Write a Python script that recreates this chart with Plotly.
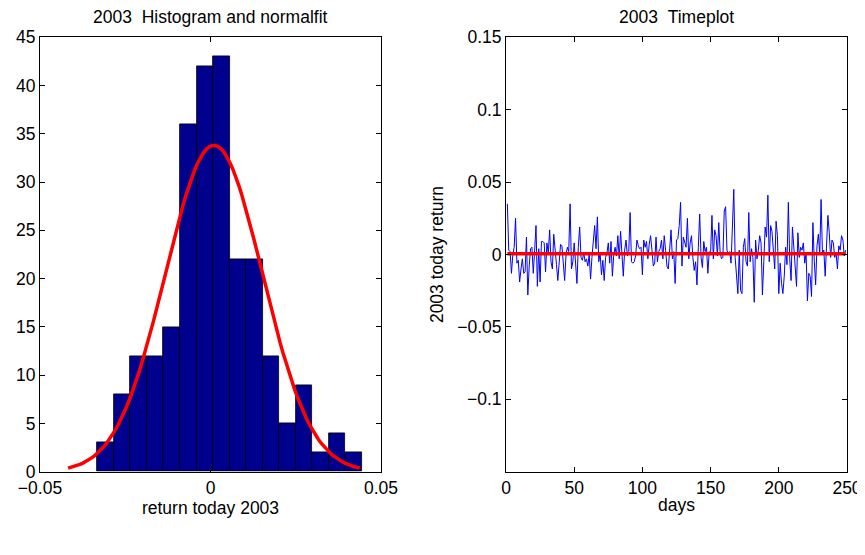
import numpy as np
import plotly.graph_objects as go

# ---------------- data ----------------
# histogram (left panel)
hist_counts = [3, 8, 12, 12, 15, 36, 42, 43, 22, 22, 12, 5, 9, 2, 4, 2]
hist_first_edge = -0.0332
hist_bin_width = 0.00485

# normal fit parameters (left panel)
fit_mean = 0.001
fit_std = 0.01425
n_obs = 249

# daily returns 2003, in thousandths (right panel), days 1..249
returns_milli = [
    35, 3, 2, -13, 0, 5, 25, -6, -4, -19,
    -10, -3, -13, -12, 12, -28, -8, 4, 5, -13,
    3, 20, -22, 4, -19, 9, 9, 8, -12, 8,
    1, 17, -5, -10, 14, 0, -7, -18, -5, 7,
    6, -5, -18, 0, 5, 2, 35, -10, -5, 8,
    -6, -20, 5, 19, -2, -4, 1, -5, -3, -8,
    0, -17, -2, 10, 20, 4, 26, -5, 1, -14,
    -4, -18, -2, 1, 8, -6, 9, -15, 0, 5,
    -1, 13, -3, 16, 2, -15, 3, 10, -1, 2,
    29, -5, -6, -5, -1, 10, 6, 4, 5, -14,
    10, 5, 9, -3, 7, 13, 3, -8, -6, 12,
    -5, 2, 4, 10, -3, 13, 3, -8, -10, 8,
    17, -3, 2, -20, 10, 11, 20, 36, -8, 12,
    8, 5, 25, -3, 8, 13, -2, -11, -5, -21,
    5, 28, -2, -9, 9, 2, 5, -13, 2, 1,
    27, -3, 17, 13, -1, 22, 1, -3, -2, 30,
    33, 3, 0, 2, -6, 20, 45, -2, -17, -27,
    3, -25, -27, 5, 11, -5, -8, 29, -5, 4,
    -2, -33, 10, -3, 3, 13, 8, -28, -5, 19,
    12, 41, -5, 20, 16, 5, -10, 23, 13, -27,
    -6, -20, -27, -15, 5, -7, 36, -3, -18, 19,
    7, -5, -22, 15, -2, 5, 3, 8, -6, 1,
    -32, -13, -15, -29, 22, -4, -21, 6, 14, 0,
    38, 1, 3, -15, 5, 27, 15, -2, 10, 8,
    -2, 1, -10, 6, 3, 13, 10, -1, 3,
]
mean_line_value = 0.0005

left_xticks = [-0.05, 0, 0.05]
left_yticks = [0, 5, 10, 15, 20, 25, 30, 35, 40, 45]
right_xticks = [0, 50, 100, 150, 200, 250]
right_yticks = [0.15, 0.1, 0.05, 0, -0.05, -0.1]

# ---------------- derived ----------------
returns = np.array(returns_milli) / 1000.0
days = np.arange(1, len(returns) + 1)
bin_centers = hist_first_edge + hist_bin_width * (np.arange(len(hist_counts)) + 0.5)
xfit = np.linspace(fit_mean - 3 * fit_std, fit_mean + 3 * fit_std, 100)
yfit = n_obs * hist_bin_width * np.exp(-0.5 * ((xfit - fit_mean) / fit_std) ** 2) / (fit_std * np.sqrt(2 * np.pi))

FONT = "Liberation Sans, Arial, Helvetica, sans-serif"
FS = 17.5

# page body has an 8px margin; figure is sized to fit the remaining window
OFF = 8
W, H = 865 - OFF, 555 - 2 * OFF

def px_x(x):
    return (x - OFF) / W

def px_y(y):
    return 1 - (y - OFF) / H

def fmt(v):
    s = ("%g" % v)
    return s.replace("-", "\u2212")

fig = go.Figure()
fig.add_trace(go.Bar(x=bin_centers, y=hist_counts, width=hist_bin_width,
                     marker=dict(color="rgb(0,0,143)", line=dict(color="black", width=0.8)),
                     xaxis="x", yaxis="y", showlegend=False))
fig.add_trace(go.Scatter(x=xfit, y=yfit, mode="lines", line=dict(color="red", width=3.5),
                         xaxis="x", yaxis="y", showlegend=False))
fig.add_trace(go.Scatter(x=days, y=returns, mode="lines", line=dict(color="blue", width=1),
                         xaxis="x2", yaxis="y2", showlegend=False))
fig.add_trace(go.Scatter(x=[days[0], days[-1]], y=[mean_line_value, mean_line_value], mode="lines",
                         line=dict(color="red", width=3.5), xaxis="x2", yaxis="y2", showlegend=False))

axis_common = dict(showline=True, linecolor="black", linewidth=1, mirror="ticks",
                   ticks="inside", ticklen=5, tickcolor="black", tickwidth=1,
                   showgrid=False, zeroline=False, automargin=False,
                   tickfont=dict(family=FONT, size=FS, color="black"))

ydom = [px_y(471.7), px_y(37.3)]
fig.update_layout(
    width=W, height=H,
    margin=dict(l=0, r=0, t=0, b=0),
    paper_bgcolor="white", plot_bgcolor="white",
    bargap=0,
    xaxis=dict(domain=[px_x(40), px_x(381)], range=[-0.05, 0.05], anchor="y",
               tickvals=left_xticks, ticktext=[fmt(v) for v in left_xticks],
               title=dict(text="return today 2003", font=dict(family=FONT, size=FS, color="black"), standoff=2),
               **axis_common),
    yaxis=dict(domain=ydom, range=[0, 45], anchor="x",
               tickvals=left_yticks, ticktext=[fmt(v) for v in left_yticks],
               **axis_common),
    xaxis2=dict(domain=[px_x(506), px_x(847)], range=[0, 250], anchor="y2",
                tickvals=right_xticks, ticktext=[fmt(v) for v in right_xticks],
                title=dict(text="days", font=dict(family=FONT, size=FS, color="black"), standoff=2),
                **axis_common),
    yaxis2=dict(domain=ydom, range=[-0.15, 0.15], anchor="x2",
                tickvals=right_yticks, ticktext=[fmt(v) for v in right_yticks],
                title=dict(text="2003 today return", font=dict(family=FONT, size=FS, color="black"), standoff=9),
                **axis_common),
    annotations=[
        dict(text="2003\u00a0\u00a0Histogram and normalfit", x=px_x((40 + 381) / 2), y=px_y(17),
             xref="paper", yref="paper", showarrow=False, xanchor="center", yanchor="middle",
             font=dict(family=FONT, size=FS, color="black")),
        dict(text="2003\u00a0\u00a0Timeplot", x=px_x((506 + 847) / 2), y=px_y(17),
             xref="paper", yref="paper", showarrow=False, xanchor="center", yanchor="middle",
             font=dict(family=FONT, size=FS, color="black")),
    ],
)

fig.write_html("out.html")
